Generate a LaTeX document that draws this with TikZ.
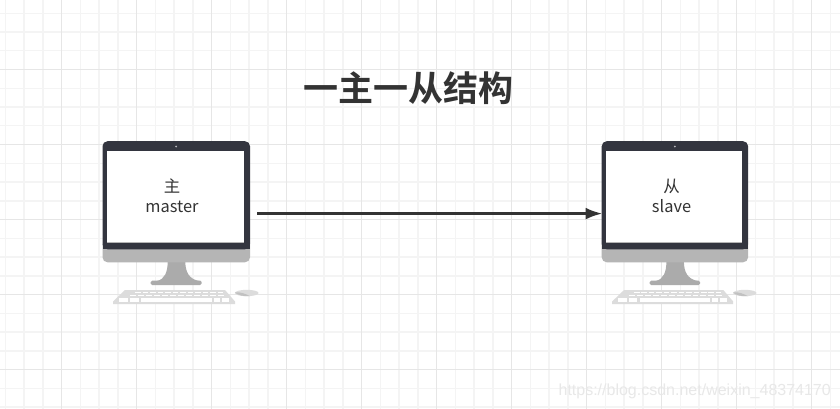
\documentclass[tikz,border=0pt]{standalone}
\usepackage{fontspec}
\setmainfont{Liberation Sans}
\newfontfamily\cjkfont{Noto Sans CJK SC}
\newfontfamily\cjkbold{Noto Sans CJK SC Bold}
\usetikzlibrary{arrows.meta}
\definecolor{bezel}{HTML}{33353F}
\definecolor{chin}{HTML}{B5B5B5}
\definecolor{standc}{HTML}{ABABAB}
\definecolor{keyc}{HTML}{DCDCDC}
\definecolor{minorg}{HTML}{F4F4F4}
\definecolor{majorg}{HTML}{E6E6E6}
\definecolor{inkc}{HTML}{333333}
\tikzset{
  minorline/.style={minorg,line width=1.4pt},
  majorline/.style={majorg,line width=1.4pt},
  screenlabel/.style={align=center,text=inkc,font=\cjkfont\fontsize{16.4}{20}\selectfont,inner sep=0pt},
  titlelabel/.style={text=inkc,font=\cjkbold\fontsize{35}{40}\selectfont,inner sep=0pt},
  marklabel/.style={text=black!9,font=\fontsize{16}{18}\selectfont,inner sep=0pt},
  flow/.style={draw=inkc,line width=2.8pt,-{Latex[length=17pt,width=12pt]}},
}
\newcommand{\desktop}[1]{%
\begin{scope}[#1]
  \fill[standc] (167.7,262) .. controls (167.5,272) and (165,279) .. (157,281) -- (199,281) .. controls (189,279) and (185.5,272) .. (185.3,262) -- cycle;
  \fill[standc,rounded corners=1.5pt] (150.7,280.7) rectangle (201.7,285);
  \fill[chin,rounded corners=5pt] (102.5,240) rectangle (250,262.3);
  \fill[bezel] (102.5,245) -- (102.5,249.3) -- (250,249.3) -- (250,245) -- cycle;
  \fill[bezel,rounded corners=5pt] (102.5,249.3) -- (102.5,141.2) -- (250,141.2) -- (250,249.3) -- cycle;
  \fill[white] (106.7,151.3) rectangle (244,242.7);
  \fill[chin] (106.7,242) rectangle (244,242.8);
  \fill[white!65!bezel] (176.2,146.5) circle (1pt);
  \fill[keyc] (125,290) -- (225,290) -- (235,301.5) -- (235,304) -- (113,304) -- (113,301.5) -- cycle;
  \foreach \kx in {135,142.5,...,218}{\fill[white] (\kx,291.5) rectangle ++(5.6,1.7);}
  \foreach \kx in {130,138,...,218}{\fill[white] (\kx,294.6) rectangle ++(6,1.7);}
  \fill[white] (118.5,298) rectangle (128,301.5);
  \fill[white] (130,298) rectangle (138.5,301.5);
  \fill[white] (141,298) rectangle (212,301.5);
  \fill[white] (213.5,298) rectangle (220,301.5);
  \fill[white] (222,298) rectangle (229,301.5);
  \fill[keyc] (246.7,293) ellipse (11.8pt and 3.2pt);
  \fill[chin!70!keyc] (235,292.5) .. controls (240,291.5) and (246,294) .. (250,296.2) .. controls (243,296.5) and (237,295) .. (235,292.5) -- cycle;
\end{scope}}
\begin{document}
\begin{tikzpicture}[x=1pt,y=-1pt]
  \useasboundingbox (0,0) rectangle (840,409);
  \fill[white] (0,0) rectangle (840,409);
  % grid
  \foreach \gx in {5.3,24,42.8,80.3,99,117.8,155.3,174,192.8,230.3,249,267.8,305.3,324,342.8,380.3,399,417.8,455.3,474,492.8,530.3,549,567.8,605.3,624,642.8,680.3,699,717.8,755.3,774,792.8,830.3}{\draw[minorline] (\gx,0) -- (\gx,409);}
  \foreach \gy in {13.3,32,50.8,88.3,107,125.8,163.3,182,200.8,238.3,257,275.8,313.3,332,350.8,388.3,407}{\draw[minorline] (0,\gy) -- (840,\gy);}
  \foreach \gx in {61.5,136.5,211.5,286.5,361.5,436.5,511.5,586.5,661.5,736.5,811.5}{\draw[majorline] (\gx,0) -- (\gx,409);}
  \foreach \gy in {69.5,144.5,219.5,294.5,369.5}{\draw[majorline] (0,\gy) -- (840,\gy);}
  % computers
  \desktop{}
  \desktop{shift={(-0.7,0)},xshift=603pt,xscale=0.9925,xshift=-103.1pt}
  % labels
  \node[titlelabel] (title) at (408.5,88) {一主一从结构};
  \node[screenlabel] (master) at (172,195.8) {主\\master};
  \node[screenlabel] (slave) at (671.5,195.8) {从\\slave};
  \coordinate (src) at (257.3,213.6);
  \coordinate (dst) at (602.5,213.6);
  \draw[flow] (src) -- (dst);
  \node[marklabel,anchor=east] (mark) at (831,391) {https://blog.csdn.net/weixin\_48374170};
\end{tikzpicture}
\end{document}
